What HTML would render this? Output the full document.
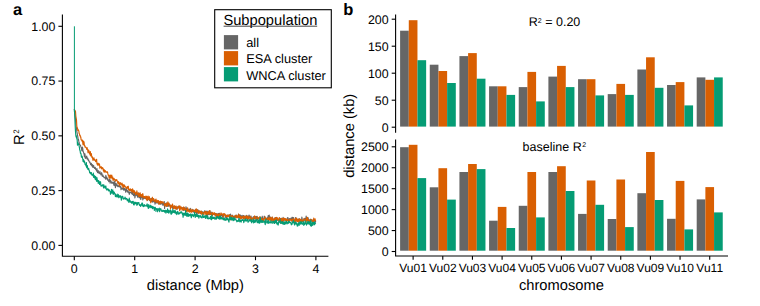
<!DOCTYPE html>
<html><head><meta charset="utf-8"><style>
html,body{margin:0;padding:0;background:#fff;width:760px;height:306px;overflow:hidden}
svg{display:block}
text{font-family:"Liberation Sans", sans-serif;fill:#000;text-rendering:geometricPrecision}
</style></head><body>
<svg width="760" height="306" viewBox="0 0 760 306">

<text x="13" y="14.6" font-size="16.5" font-weight="bold">a</text>
<path d="M74.4,109.06L74.50,110.1L74.83,113.5L75.16,116.7L75.49,119.1L75.82,124.2L76.15,127.3L76.48,128.3L76.81,131.3L77.14,133.0L77.47,135.0L77.80,136.7L78.13,139.2L78.46,139.3L78.79,141.4L79.12,142.3L79.45,144.6L79.78,144.8L80.11,145.1L80.44,145.1L80.77,146.4L81.10,147.4L81.43,147.7L81.76,150.4L82.09,150.8L82.42,147.0L82.75,148.7L83.08,151.5L83.41,151.8L83.74,153.2L84.07,153.9L84.40,156.8L84.73,153.5L85.06,154.9L85.39,158.4L85.72,157.3L86.05,157.9L86.38,157.0L86.71,156.1L87.04,158.8L87.37,159.2L87.70,158.1L88.03,159.2L88.36,160.5L88.69,159.9L89.02,161.3L89.35,162.0L89.68,162.4L90.01,162.1L90.34,163.9L90.67,164.7L91.00,164.4L91.33,163.4L91.66,165.7L91.99,164.6L92.32,166.6L92.65,164.7L92.98,167.4L93.31,166.7L93.64,165.6L93.97,167.0L94.30,167.8L94.63,168.5L94.96,167.3L95.29,167.5L95.62,169.4L95.95,168.9L96.28,170.1L96.61,171.1L96.94,168.5L97.27,171.1L97.60,172.6L97.93,171.1L98.26,170.7L98.59,172.9L98.92,172.6L99.25,173.7L99.58,172.5L99.91,171.4L100.24,173.4L100.57,173.3L100.90,175.0L101.23,174.6L101.56,172.7L101.89,173.5L102.22,176.2L102.55,176.3L102.88,175.0L103.21,176.0L103.54,176.8L103.87,177.1L104.20,177.8L104.53,177.3L104.86,177.2L105.19,177.2L105.52,179.1L105.85,175.3L106.18,178.1L106.51,178.6L106.84,177.1L107.17,179.4L107.50,178.5L107.83,180.5L108.16,179.6L108.49,180.8L108.82,181.7L109.15,180.9L109.48,179.6L109.81,179.1L110.14,183.2L110.47,181.2L110.80,180.7L111.13,182.0L111.46,181.8L111.79,183.3L112.12,182.5L112.45,182.7L112.78,182.0L113.11,183.7L113.44,182.1L113.77,184.3L114.10,185.5L114.43,182.1L114.76,181.2L115.09,185.1L115.42,187.6L115.75,183.5L116.08,183.4L116.41,185.8L116.74,184.3L117.07,184.9L117.40,185.3L117.73,186.6L118.06,185.6L118.39,186.6L118.72,186.3L119.05,185.7L119.38,186.5L119.71,185.9L120.04,187.3L120.37,186.1L120.70,186.3L121.03,189.6L121.36,187.9L121.69,188.1L122.02,189.0L122.35,188.0L122.68,188.4L123.01,189.4L123.34,189.4L123.67,187.8L124.00,190.4L124.33,188.9L124.66,188.5L124.99,188.8L125.32,189.6L125.65,192.2L125.98,189.0L126.31,190.8L126.64,188.2L126.97,190.9L127.30,192.2L127.63,191.0L127.96,190.7L128.29,191.8L128.62,192.6L128.95,192.7L129.28,194.4L129.61,192.4L129.94,191.6L130.27,192.4L130.60,192.6L130.93,192.9L131.26,192.9L131.59,193.3L131.92,191.3L132.25,194.4L132.58,192.9L132.91,192.3L133.24,194.6L133.57,195.6L133.90,194.7L134.23,194.5L134.56,193.3L134.89,198.0L135.22,195.8L135.55,193.5L135.88,194.1L136.21,195.2L136.54,193.4L136.87,195.6L137.20,195.0L137.53,197.2L137.86,197.0L138.19,192.7L138.52,196.1L138.85,194.3L139.18,197.7L139.51,196.7L139.84,197.3L140.17,195.5L140.50,199.1L140.83,199.4L141.16,195.9L141.49,197.7L141.82,196.6L142.15,197.5L142.48,196.1L142.81,200.0L143.14,196.7L143.47,197.6L143.80,198.7L144.13,197.5L144.46,198.1L144.79,197.8L145.12,198.4L145.45,197.3L145.78,198.3L146.11,198.7L146.44,198.7L146.77,199.3L147.10,199.0L147.43,200.3L147.76,199.2L148.09,199.5L148.42,199.0L148.75,199.2L149.08,198.5L149.41,200.7L149.74,198.8L150.07,199.4L150.40,200.9L150.73,201.0L151.06,200.2L151.39,198.3L151.72,201.4L152.05,201.3L152.38,199.4L152.71,202.1L153.04,200.4L153.37,200.0L153.70,201.6L154.03,201.4L154.36,201.9L154.69,199.9L155.02,204.1L155.35,201.3L155.68,200.3L156.01,203.0L156.34,201.9L156.67,202.8L157.00,202.1L157.33,202.5L157.66,203.0L157.99,201.9L158.32,203.7L158.65,202.4L158.98,202.0L159.31,203.3L159.64,203.8L159.97,203.1L160.30,202.4L160.63,204.3L160.96,201.5L161.29,202.5L161.62,203.9L161.95,202.3L162.28,204.0L162.61,204.0L162.94,205.3L163.27,203.2L163.60,203.6L163.93,204.9L164.26,201.6L164.59,208.4L164.92,203.9L165.25,203.9L165.58,205.9L165.91,204.9L166.24,202.9L166.57,205.9L166.90,206.3L167.23,204.8L167.56,205.1L167.89,206.1L168.22,204.5L168.55,206.2L168.88,206.0L169.21,205.0L169.54,204.2L169.87,205.7L170.20,205.0L170.53,207.3L170.86,206.4L171.19,207.2L171.52,206.5L171.85,206.8L172.18,205.6L172.51,207.4L172.84,208.8L173.17,206.4L173.50,206.1L173.83,206.7L174.16,206.4L174.49,206.2L174.82,207.3L175.15,206.9L175.48,209.0L175.81,207.4L176.14,207.8L176.47,208.7L176.80,207.2L177.13,209.4L177.46,207.0L177.79,206.8L178.12,207.4L178.45,207.8L178.78,206.3L179.11,208.0L179.44,206.2L179.77,209.9L180.10,208.2L180.43,207.6L180.76,207.3L181.09,208.0L181.42,208.3L181.75,207.4L182.08,207.6L182.41,208.5L182.74,208.2L183.07,210.0L183.40,210.3L183.73,209.1L184.06,209.7L184.39,207.6L184.72,210.0L185.05,209.3L185.38,209.9L185.71,211.3L186.04,206.7L186.37,209.9L186.70,208.3L187.03,210.4L187.36,208.2L187.69,209.2L188.02,210.1L188.35,210.7L188.68,210.1L189.01,209.1L189.34,209.4L189.67,211.2L190.00,210.2L190.33,208.3L190.66,211.4L190.99,210.9L191.32,211.5L191.65,210.1L191.98,211.6L192.31,209.4L192.64,211.4L192.97,210.2L193.30,211.6L193.63,212.1L193.96,210.0L194.29,210.9L194.62,211.1L194.95,212.5L195.28,212.0L195.61,209.7L195.94,211.8L196.27,212.2L196.60,213.9L196.93,209.4L197.26,210.8L197.59,213.1L197.92,210.0L198.25,210.2L198.58,212.3L198.91,213.0L199.24,211.0L199.57,212.5L199.90,212.0L200.23,213.8L200.56,212.0L200.89,213.2L201.22,211.0L201.55,211.9L201.88,212.1L202.21,213.6L202.54,213.0L202.87,211.5L203.20,213.2L203.53,213.4L203.86,212.4L204.19,212.2L204.52,212.4L204.85,210.6L205.18,212.9L205.51,213.0L205.84,211.8L206.17,213.7L206.50,211.2L206.83,212.3L207.16,212.4L207.49,215.4L207.82,211.2L208.15,213.8L208.48,214.3L208.81,213.7L209.14,214.7L209.47,212.1L209.80,210.6L210.13,214.3L210.46,212.0L210.79,213.1L211.12,212.1L211.45,214.8L211.78,214.7L212.11,212.8L212.44,214.8L212.77,213.9L213.10,213.6L213.43,213.9L213.76,213.6L214.09,214.7L214.42,214.3L214.75,213.6L215.08,215.3L215.41,213.4L215.74,214.5L216.07,214.7L216.40,216.0L216.73,213.7L217.06,216.4L217.39,214.6L217.72,214.2L218.05,213.6L218.38,215.2L218.71,214.6L219.04,213.2L219.37,213.2L219.70,214.0L220.03,213.9L220.36,216.0L220.69,216.4L221.02,215.8L221.35,215.2L221.68,214.3L222.01,215.0L222.34,216.0L222.67,217.5L223.00,216.1L223.33,214.7L223.66,215.1L223.99,214.5L224.32,214.2L224.65,215.0L224.98,215.5L225.31,217.5L225.64,215.4L225.97,217.0L226.30,217.5L226.63,215.5L226.96,217.4L227.29,216.3L227.62,215.0L227.95,215.9L228.28,215.6L228.61,215.3L228.94,215.4L229.27,215.9L229.60,216.2L229.93,214.7L230.26,215.8L230.59,214.0L230.92,216.2L231.25,216.6L231.58,216.1L231.91,216.3L232.24,216.7L232.57,215.2L232.90,215.8L233.23,216.7L233.56,217.3L233.89,216.6L234.22,219.3L234.55,216.1L234.88,217.5L235.21,217.8L235.54,216.2L235.87,215.4L236.20,215.0L236.53,216.6L236.86,217.8L237.19,216.8L237.52,216.7L237.85,216.1L238.18,217.2L238.51,214.0L238.84,216.9L239.17,216.7L239.50,215.0L239.83,219.3L240.16,215.1L240.49,215.5L240.82,215.4L241.15,218.2L241.48,215.8L241.81,217.7L242.14,217.6L242.47,217.3L242.80,215.4L243.13,216.3L243.46,219.0L243.79,215.5L244.12,216.1L244.45,216.9L244.78,218.1L245.11,217.5L245.44,218.1L245.77,215.9L246.10,218.4L246.43,218.0L246.76,215.4L247.09,219.2L247.42,220.1L247.75,216.5L248.08,217.5L248.41,219.1L248.74,215.7L249.07,215.1L249.40,216.0L249.73,216.9L250.06,216.9L250.39,218.3L250.72,217.9L251.05,216.1L251.38,218.3L251.71,219.9L252.04,219.1L252.37,218.9L252.70,217.8L253.03,219.0L253.36,216.6L253.69,218.7L254.02,217.8L254.35,219.2L254.68,218.5L255.01,216.6L255.34,218.1L255.67,219.4L256.00,216.6L256.33,217.4L256.66,217.1L256.99,216.3L257.32,219.2L257.65,219.7L257.98,219.1L258.31,218.4L258.64,218.1L258.97,218.5L259.30,217.3L259.63,219.3L259.96,219.5L260.29,219.4L260.62,217.7L260.95,218.4L261.28,218.2L261.61,220.5L261.94,218.6L262.27,216.2L262.60,218.9L262.93,220.7L263.26,219.3L263.59,219.6L263.92,218.6L264.25,216.2L264.58,216.4L264.91,217.1L265.24,218.5L265.57,219.0L265.90,219.5L266.23,218.3L266.56,219.8L266.89,218.4L267.22,217.9L267.55,219.8L267.88,217.7L268.21,215.5L268.54,217.5L268.87,218.9L269.20,215.1L269.53,218.4L269.86,218.5L270.19,217.2L270.52,217.1L270.85,218.4L271.18,218.3L271.51,220.5L271.84,219.4L272.17,217.1L272.50,218.0L272.83,219.9L273.16,221.3L273.49,219.5L273.82,219.5L274.15,221.3L274.48,219.1L274.81,218.8L275.14,217.5L275.47,218.6L275.80,221.8L276.13,217.5L276.46,219.2L276.79,217.6L277.12,219.4L277.45,220.3L277.78,219.0L278.11,220.2L278.44,220.2L278.77,219.9L279.10,221.4L279.43,220.3L279.76,219.0L280.09,218.6L280.42,218.4L280.75,220.0L281.08,219.1L281.41,222.7L281.74,221.7L282.07,219.2L282.40,219.1L282.73,221.6L283.06,217.3L283.39,219.0L283.72,220.7L284.05,218.5L284.38,219.0L284.71,219.2L285.04,220.4L285.37,219.8L285.70,220.1L286.03,220.4L286.36,219.7L286.69,221.0L287.02,218.8L287.35,218.0L287.68,217.6L288.01,217.8L288.34,219.1L288.67,221.0L289.00,220.0L289.33,219.1L289.66,218.5L289.99,219.2L290.32,219.4L290.65,219.2L290.98,218.2L291.31,219.3L291.64,221.1L291.97,217.3L292.30,219.6L292.63,217.4L292.96,220.2L293.29,219.1L293.62,217.5L293.95,220.1L294.28,222.2L294.61,220.2L294.94,221.4L295.27,220.0L295.60,217.5L295.93,220.7L296.26,219.6L296.59,218.3L296.92,221.0L297.25,220.5L297.58,219.5L297.91,221.2L298.24,219.1L298.57,220.9L298.90,219.0L299.23,220.8L299.56,218.9L299.89,222.0L300.22,220.5L300.55,221.9L300.88,219.3L301.21,219.7L301.54,221.3L301.87,217.0L302.20,219.0L302.53,221.5L302.86,220.9L303.19,221.5L303.52,220.0L303.85,221.0L304.18,219.5L304.51,218.7L304.84,218.3L305.17,219.7L305.50,219.7L305.83,219.6L306.16,216.1L306.49,218.0L306.82,219.8L307.15,220.8L307.48,219.7L307.81,219.4L308.14,217.7L308.47,222.9L308.80,219.2L309.13,222.5L309.46,222.4L309.79,220.8L310.12,219.8L310.45,220.7L310.78,219.1L311.11,220.9L311.44,220.5L311.77,221.2L312.10,221.7L312.43,222.7L312.76,220.1L313.09,221.8L313.42,219.6L313.75,219.5L314.08,219.9L314.41,219.4L314.74,221.8L315.07,221.7L315.40,222.2L315.73,220.6" fill="none" stroke="#666666" stroke-width="1.15" stroke-linejoin="round"/>
<path d="M74.4,109.03L74.50,110.0L74.83,110.2L75.16,111.1L75.49,111.3L75.82,116.1L76.15,118.0L76.48,119.9L76.81,126.0L77.14,127.7L77.47,127.8L77.80,130.4L78.13,129.5L78.46,130.4L78.79,130.8L79.12,133.4L79.45,133.8L79.78,135.6L80.11,135.2L80.44,137.1L80.77,136.8L81.10,139.7L81.43,139.7L81.76,140.4L82.09,141.2L82.42,140.1L82.75,142.8L83.08,144.9L83.41,141.1L83.74,141.5L84.07,142.3L84.40,145.7L84.73,145.4L85.06,147.1L85.39,147.2L85.72,147.1L86.05,147.7L86.38,147.7L86.71,149.4L87.04,147.5L87.37,148.9L87.70,150.2L88.03,152.6L88.36,150.0L88.69,150.1L89.02,151.2L89.35,153.5L89.68,152.6L90.01,154.9L90.34,151.6L90.67,155.7L91.00,156.0L91.33,153.5L91.66,155.9L91.99,157.6L92.32,156.7L92.65,158.3L92.98,160.4L93.31,158.3L93.64,158.1L93.97,157.9L94.30,160.1L94.63,159.5L94.96,159.9L95.29,160.4L95.62,161.7L95.95,160.1L96.28,160.0L96.61,159.3L96.94,164.0L97.27,163.1L97.60,165.2L97.93,163.8L98.26,163.3L98.59,165.1L98.92,164.8L99.25,163.8L99.58,164.6L99.91,168.2L100.24,166.8L100.57,167.3L100.90,166.8L101.23,166.7L101.56,168.9L101.89,168.1L102.22,167.6L102.55,168.7L102.88,168.1L103.21,169.8L103.54,171.2L103.87,169.2L104.20,172.3L104.53,170.1L104.86,171.4L105.19,170.5L105.52,171.6L105.85,172.2L106.18,171.9L106.51,171.9L106.84,172.3L107.17,172.4L107.50,171.8L107.83,173.7L108.16,174.8L108.49,175.7L108.82,175.7L109.15,178.1L109.48,175.8L109.81,175.2L110.14,178.3L110.47,175.0L110.80,177.7L111.13,175.7L111.46,177.6L111.79,175.0L112.12,178.8L112.45,177.8L112.78,177.0L113.11,180.5L113.44,179.7L113.77,179.0L114.10,178.4L114.43,179.5L114.76,179.6L115.09,180.9L115.42,181.2L115.75,179.7L116.08,180.1L116.41,180.4L116.74,179.6L117.07,180.8L117.40,181.6L117.73,182.8L118.06,183.8L118.39,181.5L118.72,183.3L119.05,182.4L119.38,185.6L119.71,183.3L120.04,184.2L120.37,182.7L120.70,183.1L121.03,184.5L121.36,184.0L121.69,185.1L122.02,183.0L122.35,185.9L122.68,184.3L123.01,187.6L123.34,185.4L123.67,187.3L124.00,184.5L124.33,186.9L124.66,185.5L124.99,186.2L125.32,187.0L125.65,186.8L125.98,187.7L126.31,188.5L126.64,188.6L126.97,187.9L127.30,186.6L127.63,187.4L127.96,188.3L128.29,186.2L128.62,189.9L128.95,188.9L129.28,189.0L129.61,190.7L129.94,190.5L130.27,190.2L130.60,188.9L130.93,190.6L131.26,190.9L131.59,189.6L131.92,192.0L132.25,191.6L132.58,188.8L132.91,191.5L133.24,190.0L133.57,193.0L133.90,192.8L134.23,190.7L134.56,191.1L134.89,192.5L135.22,192.2L135.55,194.5L135.88,193.7L136.21,192.7L136.54,193.9L136.87,190.9L137.20,193.9L137.53,194.7L137.86,193.6L138.19,193.1L138.52,194.8L138.85,196.6L139.18,194.7L139.51,193.3L139.84,196.5L140.17,192.7L140.50,195.7L140.83,194.5L141.16,196.5L141.49,194.5L141.82,197.2L142.15,196.2L142.48,193.9L142.81,193.7L143.14,195.9L143.47,197.9L143.80,196.7L144.13,196.8L144.46,196.5L144.79,197.8L145.12,197.5L145.45,197.6L145.78,196.2L146.11,198.9L146.44,199.3L146.77,196.2L147.10,200.7L147.43,198.9L147.76,197.6L148.09,196.0L148.42,199.2L148.75,199.2L149.08,198.0L149.41,196.7L149.74,200.3L150.07,198.4L150.40,198.7L150.73,202.8L151.06,202.0L151.39,200.7L151.72,199.2L152.05,200.6L152.38,197.2L152.71,200.2L153.04,199.3L153.37,198.8L153.70,198.6L154.03,201.2L154.36,200.8L154.69,201.0L155.02,201.9L155.35,200.0L155.68,199.7L156.01,199.1L156.34,201.0L156.67,202.4L157.00,201.4L157.33,202.5L157.66,200.4L157.99,201.4L158.32,201.1L158.65,200.7L158.98,204.5L159.31,203.4L159.64,201.6L159.97,201.7L160.30,202.6L160.63,201.1L160.96,203.5L161.29,201.5L161.62,202.7L161.95,202.0L162.28,202.8L162.61,201.9L162.94,201.7L163.27,202.5L163.60,202.9L163.93,203.5L164.26,204.0L164.59,205.9L164.92,205.1L165.25,204.0L165.58,205.2L165.91,203.6L166.24,206.3L166.57,205.3L166.90,203.1L167.23,205.7L167.56,205.9L167.89,201.8L168.22,204.2L168.55,204.6L168.88,203.0L169.21,204.1L169.54,204.4L169.87,206.2L170.20,206.0L170.53,208.9L170.86,205.4L171.19,207.3L171.52,206.1L171.85,206.4L172.18,204.8L172.51,204.0L172.84,205.5L173.17,207.4L173.50,208.5L173.83,207.4L174.16,207.3L174.49,205.8L174.82,208.7L175.15,208.6L175.48,206.4L175.81,207.1L176.14,206.0L176.47,209.1L176.80,207.9L177.13,207.4L177.46,208.0L177.79,208.2L178.12,207.2L178.45,206.3L178.78,206.3L179.11,205.9L179.44,208.6L179.77,210.8L180.10,206.1L180.43,208.4L180.76,208.8L181.09,207.2L181.42,208.7L181.75,207.2L182.08,210.1L182.41,208.0L182.74,208.9L183.07,209.7L183.40,208.4L183.73,206.9L184.06,208.4L184.39,210.1L184.72,209.1L185.05,209.6L185.38,208.1L185.71,209.6L186.04,210.4L186.37,209.6L186.70,211.9L187.03,209.5L187.36,208.5L187.69,207.9L188.02,211.3L188.35,209.9L188.68,211.3L189.01,210.7L189.34,212.1L189.67,211.8L190.00,209.9L190.33,210.7L190.66,211.8L190.99,209.0L191.32,212.3L191.65,212.1L191.98,211.9L192.31,210.5L192.64,211.2L192.97,209.6L193.30,211.0L193.63,210.3L193.96,211.2L194.29,210.6L194.62,211.6L194.95,212.7L195.28,209.8L195.61,212.5L195.94,209.1L196.27,208.9L196.60,211.4L196.93,211.6L197.26,212.2L197.59,209.8L197.92,211.7L198.25,212.0L198.58,213.4L198.91,211.9L199.24,212.7L199.57,210.9L199.90,211.9L200.23,211.7L200.56,213.1L200.89,211.1L201.22,211.4L201.55,213.1L201.88,214.6L202.21,213.0L202.54,213.0L202.87,212.2L203.20,214.0L203.53,213.4L203.86,214.9L204.19,213.3L204.52,211.8L204.85,212.3L205.18,211.8L205.51,211.6L205.84,214.6L206.17,214.1L206.50,211.7L206.83,215.4L207.16,213.6L207.49,212.2L207.82,213.9L208.15,213.4L208.48,212.6L208.81,211.2L209.14,213.7L209.47,214.0L209.80,210.6L210.13,214.4L210.46,214.6L210.79,213.3L211.12,214.0L211.45,213.6L211.78,213.0L212.11,213.6L212.44,215.7L212.77,212.4L213.10,214.5L213.43,214.5L213.76,213.4L214.09,213.8L214.42,212.7L214.75,213.4L215.08,214.5L215.41,214.9L215.74,213.5L216.07,218.3L216.40,213.9L216.73,214.8L217.06,214.4L217.39,214.3L217.72,216.4L218.05,214.3L218.38,216.5L218.71,216.3L219.04,213.7L219.37,216.3L219.70,214.3L220.03,218.4L220.36,214.7L220.69,214.0L221.02,212.9L221.35,213.7L221.68,214.6L222.01,214.1L222.34,213.9L222.67,214.6L223.00,215.2L223.33,217.2L223.66,213.5L223.99,214.9L224.32,214.5L224.65,213.8L224.98,214.2L225.31,214.6L225.64,216.6L225.97,215.6L226.30,215.2L226.63,216.6L226.96,216.2L227.29,215.7L227.62,216.4L227.95,215.0L228.28,216.8L228.61,216.6L228.94,215.6L229.27,214.7L229.60,218.0L229.93,216.3L230.26,219.9L230.59,215.5L230.92,217.4L231.25,215.8L231.58,216.7L231.91,217.4L232.24,215.5L232.57,216.4L232.90,216.7L233.23,216.7L233.56,217.3L233.89,217.9L234.22,217.7L234.55,217.0L234.88,216.3L235.21,215.4L235.54,215.9L235.87,216.2L236.20,217.7L236.53,216.4L236.86,215.4L237.19,217.7L237.52,216.0L237.85,216.1L238.18,216.8L238.51,217.6L238.84,214.2L239.17,215.8L239.50,217.4L239.83,216.7L240.16,216.2L240.49,216.6L240.82,218.9L241.15,216.7L241.48,218.2L241.81,218.3L242.14,216.8L242.47,217.9L242.80,216.9L243.13,216.7L243.46,216.1L243.79,218.6L244.12,217.1L244.45,216.9L244.78,216.2L245.11,219.8L245.44,218.5L245.77,217.5L246.10,216.9L246.43,215.9L246.76,218.1L247.09,218.1L247.42,216.1L247.75,219.2L248.08,218.8L248.41,216.7L248.74,217.2L249.07,217.4L249.40,218.2L249.73,217.8L250.06,216.0L250.39,219.8L250.72,218.4L251.05,219.6L251.38,219.6L251.71,217.9L252.04,218.6L252.37,219.1L252.70,219.1L253.03,218.0L253.36,217.5L253.69,218.3L254.02,217.3L254.35,217.6L254.68,215.9L255.01,218.5L255.34,217.1L255.67,217.7L256.00,218.4L256.33,218.8L256.66,220.7L256.99,218.7L257.32,216.8L257.65,218.7L257.98,217.8L258.31,219.0L258.64,217.8L258.97,217.8L259.30,218.0L259.63,217.9L259.96,216.5L260.29,217.9L260.62,218.7L260.95,220.2L261.28,218.4L261.61,218.3L261.94,219.5L262.27,219.5L262.60,220.7L262.93,219.5L263.26,218.8L263.59,220.5L263.92,220.7L264.25,218.4L264.58,219.1L264.91,216.9L265.24,218.5L265.57,217.9L265.90,218.8L266.23,218.5L266.56,218.8L266.89,218.9L267.22,219.7L267.55,219.4L267.88,218.4L268.21,217.6L268.54,220.6L268.87,220.9L269.20,218.6L269.53,219.9L269.86,217.4L270.19,217.4L270.52,218.9L270.85,221.0L271.18,218.0L271.51,218.3L271.84,221.2L272.17,217.1L272.50,220.1L272.83,219.9L273.16,219.1L273.49,219.6L273.82,222.6L274.15,218.1L274.48,219.1L274.81,219.2L275.14,218.6L275.47,217.9L275.80,221.4L276.13,219.8L276.46,217.4L276.79,218.7L277.12,220.0L277.45,220.0L277.78,217.8L278.11,219.5L278.44,219.9L278.77,220.1L279.10,220.1L279.43,217.5L279.76,221.9L280.09,219.9L280.42,221.9L280.75,223.1L281.08,219.5L281.41,218.2L281.74,220.8L282.07,219.5L282.40,219.2L282.73,218.5L283.06,221.8L283.39,219.3L283.72,218.1L284.05,219.3L284.38,218.4L284.71,220.0L285.04,219.3L285.37,218.6L285.70,220.6L286.03,219.1L286.36,220.8L286.69,221.4L287.02,219.5L287.35,219.2L287.68,220.2L288.01,221.0L288.34,220.0L288.67,220.1L289.00,220.0L289.33,220.4L289.66,220.8L289.99,219.2L290.32,219.4L290.65,220.1L290.98,219.2L291.31,220.2L291.64,220.7L291.97,220.0L292.30,219.4L292.63,219.2L292.96,222.2L293.29,221.2L293.62,218.8L293.95,219.1L294.28,222.4L294.61,222.0L294.94,220.3L295.27,221.5L295.60,218.4L295.93,220.2L296.26,221.1L296.59,218.0L296.92,219.3L297.25,221.1L297.58,221.6L297.91,219.5L298.24,220.6L298.57,222.2L298.90,219.8L299.23,218.7L299.56,220.2L299.89,219.8L300.22,221.8L300.55,220.5L300.88,219.3L301.21,223.2L301.54,219.7L301.87,220.9L302.20,221.1L302.53,221.3L302.86,220.5L303.19,221.0L303.52,220.3L303.85,218.6L304.18,220.1L304.51,220.1L304.84,220.2L305.17,220.5L305.50,219.6L305.83,222.0L306.16,222.3L306.49,217.8L306.82,220.4L307.15,219.6L307.48,217.3L307.81,220.9L308.14,219.7L308.47,220.0L308.80,219.7L309.13,221.7L309.46,221.9L309.79,220.8L310.12,221.3L310.45,220.3L310.78,220.6L311.11,219.6L311.44,220.5L311.77,219.6L312.10,220.9L312.43,221.5L312.76,220.9L313.09,221.9L313.42,223.7L313.75,218.0L314.08,220.5L314.41,219.8L314.74,220.0L315.07,218.9L315.40,220.6L315.73,220.2" fill="none" stroke="#D95F02" stroke-width="1.15" stroke-linejoin="round"/>
<path d="M74.4,26.3V112" fill="none" stroke="#059C74" stroke-width="1.0"/>
<path d="M74.4,109.37L74.50,110.4L74.83,117.7L75.16,125.5L75.49,131.4L75.82,135.4L76.15,137.1L76.48,135.9L76.81,138.9L77.14,139.1L77.47,145.2L77.80,142.6L78.13,143.0L78.46,144.3L78.79,145.1L79.12,145.9L79.45,147.9L79.78,150.2L80.11,150.6L80.44,153.2L80.77,153.0L81.10,154.4L81.43,157.1L81.76,156.7L82.09,156.2L82.42,157.4L82.75,159.0L83.08,161.5L83.41,159.6L83.74,160.3L84.07,162.5L84.40,161.0L84.73,162.3L85.06,164.4L85.39,164.7L85.72,164.7L86.05,166.1L86.38,162.5L86.71,167.7L87.04,165.9L87.37,165.6L87.70,168.5L88.03,169.5L88.36,168.7L88.69,168.4L89.02,170.3L89.35,170.7L89.68,172.9L90.01,172.6L90.34,172.4L90.67,174.0L91.00,172.9L91.33,172.5L91.66,174.7L91.99,175.2L92.32,174.6L92.65,174.4L92.98,176.0L93.31,173.1L93.64,177.4L93.97,177.5L94.30,175.3L94.63,177.8L94.96,176.9L95.29,179.4L95.62,176.4L95.95,178.1L96.28,180.4L96.61,181.3L96.94,177.6L97.27,180.0L97.60,181.3L97.93,180.5L98.26,183.5L98.59,180.5L98.92,182.6L99.25,181.3L99.58,184.5L99.91,183.1L100.24,183.0L100.57,181.7L100.90,186.0L101.23,185.2L101.56,185.5L101.89,186.2L102.22,185.6L102.55,184.7L102.88,184.7L103.21,185.0L103.54,187.9L103.87,184.8L104.20,186.1L104.53,186.6L104.86,187.6L105.19,188.2L105.52,186.3L105.85,186.0L106.18,188.3L106.51,190.0L106.84,189.7L107.17,189.2L107.50,188.8L107.83,189.8L108.16,189.4L108.49,190.9L108.82,189.2L109.15,190.5L109.48,190.4L109.81,191.4L110.14,191.3L110.47,194.3L110.80,193.2L111.13,193.4L111.46,189.4L111.79,191.6L112.12,191.5L112.45,193.1L112.78,189.9L113.11,194.2L113.44,194.3L113.77,191.7L114.10,192.2L114.43,192.6L114.76,193.8L115.09,194.7L115.42,196.6L115.75,194.1L116.08,195.4L116.41,194.9L116.74,197.0L117.07,195.9L117.40,196.9L117.73,194.1L118.06,195.3L118.39,194.7L118.72,197.7L119.05,196.8L119.38,195.9L119.71,195.8L120.04,197.1L120.37,195.9L120.70,195.8L121.03,197.6L121.36,200.1L121.69,197.0L122.02,196.8L122.35,196.2L122.68,196.2L123.01,198.6L123.34,199.1L123.67,198.3L124.00,198.8L124.33,198.7L124.66,198.8L124.99,197.0L125.32,198.4L125.65,199.2L125.98,198.3L126.31,198.8L126.64,198.5L126.97,199.3L127.30,200.8L127.63,199.4L127.96,199.9L128.29,201.2L128.62,201.1L128.95,202.5L129.28,198.1L129.61,201.7L129.94,200.3L130.27,201.1L130.60,202.1L130.93,202.5L131.26,202.6L131.59,201.7L131.92,203.5L132.25,201.4L132.58,201.7L132.91,202.9L133.24,201.4L133.57,204.8L133.90,203.5L134.23,205.0L134.56,202.5L134.89,202.2L135.22,203.0L135.55,203.8L135.88,202.3L136.21,203.6L136.54,203.2L136.87,205.3L137.20,202.6L137.53,204.8L137.86,202.9L138.19,202.6L138.52,203.0L138.85,202.5L139.18,204.3L139.51,205.4L139.84,204.5L140.17,205.1L140.50,206.4L140.83,204.9L141.16,204.9L141.49,204.5L141.82,203.0L142.15,205.9L142.48,203.0L142.81,206.0L143.14,205.3L143.47,206.7L143.80,205.4L144.13,204.6L144.46,206.1L144.79,205.1L145.12,205.6L145.45,206.0L145.78,205.9L146.11,205.9L146.44,205.2L146.77,206.1L147.10,203.8L147.43,206.3L147.76,205.1L148.09,208.0L148.42,208.3L148.75,204.5L149.08,207.1L149.41,206.9L149.74,205.9L150.07,207.8L150.40,206.7L150.73,205.2L151.06,207.1L151.39,207.4L151.72,207.7L152.05,206.2L152.38,208.5L152.71,208.7L153.04,206.6L153.37,207.2L153.70,208.0L154.03,207.5L154.36,210.4L154.69,208.6L155.02,207.2L155.35,207.6L155.68,208.5L156.01,211.4L156.34,208.5L156.67,209.0L157.00,209.5L157.33,208.9L157.66,211.8L157.99,208.5L158.32,210.1L158.65,209.4L158.98,210.1L159.31,208.0L159.64,211.6L159.97,209.4L160.30,209.7L160.63,208.6L160.96,208.9L161.29,210.5L161.62,211.1L161.95,210.9L162.28,211.5L162.61,211.0L162.94,210.2L163.27,211.3L163.60,211.0L163.93,210.3L164.26,211.3L164.59,212.1L164.92,210.9L165.25,210.2L165.58,211.6L165.91,213.1L166.24,210.6L166.57,210.8L166.90,210.8L167.23,212.5L167.56,208.9L167.89,211.6L168.22,212.7L168.55,210.3L168.88,213.1L169.21,212.1L169.54,210.8L169.87,211.8L170.20,209.8L170.53,211.0L170.86,213.9L171.19,210.7L171.52,214.1L171.85,211.8L172.18,213.2L172.51,212.1L172.84,209.4L173.17,211.5L173.50,212.4L173.83,210.9L174.16,210.7L174.49,212.8L174.82,211.7L175.15,210.5L175.48,211.7L175.81,213.6L176.14,212.1L176.47,213.8L176.80,214.6L177.13,212.9L177.46,211.5L177.79,211.4L178.12,213.0L178.45,214.1L178.78,213.4L179.11,213.8L179.44,212.7L179.77,213.6L180.10,212.8L180.43,213.0L180.76,211.9L181.09,211.6L181.42,212.9L181.75,212.2L182.08,212.5L182.41,214.5L182.74,213.6L183.07,217.3L183.40,214.9L183.73,213.1L184.06,214.9L184.39,214.4L184.72,213.2L185.05,215.4L185.38,213.2L185.71,210.5L186.04,215.2L186.37,213.5L186.70,216.1L187.03,213.6L187.36,213.0L187.69,216.3L188.02,213.2L188.35,214.8L188.68,216.4L189.01,214.8L189.34,214.6L189.67,214.9L190.00,215.8L190.33,213.9L190.66,215.6L190.99,215.6L191.32,217.8L191.65,214.6L191.98,214.0L192.31,216.0L192.64,214.7L192.97,215.6L193.30,215.4L193.63,216.7L193.96,214.5L194.29,215.3L194.62,212.4L194.95,214.4L195.28,217.4L195.61,214.7L195.94,214.8L196.27,214.2L196.60,216.4L196.93,215.9L197.26,214.3L197.59,216.6L197.92,216.2L198.25,216.8L198.58,215.2L198.91,218.1L199.24,216.5L199.57,215.9L199.90,215.5L200.23,215.8L200.56,217.2L200.89,215.9L201.22,217.5L201.55,217.0L201.88,218.0L202.21,217.4L202.54,216.3L202.87,214.2L203.20,216.8L203.53,217.5L203.86,216.8L204.19,217.3L204.52,216.1L204.85,216.2L205.18,215.6L205.51,218.4L205.84,217.0L206.17,216.2L206.50,215.3L206.83,216.7L207.16,218.7L207.49,217.5L207.82,216.1L208.15,218.8L208.48,218.8L208.81,218.3L209.14,218.1L209.47,218.6L209.80,217.9L210.13,218.2L210.46,216.4L210.79,219.1L211.12,217.7L211.45,219.8L211.78,215.0L212.11,218.3L212.44,218.7L212.77,217.1L213.10,218.1L213.43,218.5L213.76,218.3L214.09,217.0L214.42,217.5L214.75,219.0L215.08,219.3L215.41,217.9L215.74,217.9L216.07,218.1L216.40,219.2L216.73,216.7L217.06,216.4L217.39,218.2L217.72,216.7L218.05,217.4L218.38,218.2L218.71,218.7L219.04,216.9L219.37,219.2L219.70,216.1L220.03,218.9L220.36,216.4L220.69,216.8L221.02,219.1L221.35,217.9L221.68,217.5L222.01,217.9L222.34,219.0L222.67,218.5L223.00,218.5L223.33,219.8L223.66,217.8L223.99,218.1L224.32,218.0L224.65,220.1L224.98,219.9L225.31,220.3L225.64,218.7L225.97,218.6L226.30,219.9L226.63,218.4L226.96,219.9L227.29,219.8L227.62,218.1L227.95,218.9L228.28,218.9L228.61,221.1L228.94,222.2L229.27,219.0L229.60,219.2L229.93,216.4L230.26,219.4L230.59,219.2L230.92,218.0L231.25,220.2L231.58,217.4L231.91,219.1L232.24,219.5L232.57,217.9L232.90,220.4L233.23,220.7L233.56,217.8L233.89,217.8L234.22,220.2L234.55,219.5L234.88,218.1L235.21,219.2L235.54,219.5L235.87,219.5L236.20,220.7L236.53,220.2L236.86,221.8L237.19,221.4L237.52,220.6L237.85,221.1L238.18,221.4L238.51,220.7L238.84,218.4L239.17,220.9L239.50,220.0L239.83,221.9L240.16,220.1L240.49,220.6L240.82,220.4L241.15,222.1L241.48,220.3L241.81,219.8L242.14,220.5L242.47,219.6L242.80,220.4L243.13,220.2L243.46,220.5L243.79,222.6L244.12,219.8L244.45,220.3L244.78,220.1L245.11,221.1L245.44,218.9L245.77,219.6L246.10,220.4L246.43,221.1L246.76,220.4L247.09,219.9L247.42,219.5L247.75,221.1L248.08,222.3L248.41,221.0L248.74,220.8L249.07,221.1L249.40,219.5L249.73,220.3L250.06,220.4L250.39,221.1L250.72,220.7L251.05,219.3L251.38,222.1L251.71,222.8L252.04,220.5L252.37,221.3L252.70,221.2L253.03,221.8L253.36,219.1L253.69,222.9L254.02,220.4L254.35,222.5L254.68,221.1L255.01,220.5L255.34,220.9L255.67,222.1L256.00,220.0L256.33,220.6L256.66,220.5L256.99,219.1L257.32,222.7L257.65,221.9L257.98,221.2L258.31,222.6L258.64,220.1L258.97,221.2L259.30,223.3L259.63,222.5L259.96,218.6L260.29,217.3L260.62,220.1L260.95,222.6L261.28,220.8L261.61,221.2L261.94,222.2L262.27,220.4L262.60,221.7L262.93,222.4L263.26,222.1L263.59,222.0L263.92,220.8L264.25,222.2L264.58,221.1L264.91,223.2L265.24,224.7L265.57,220.8L265.90,219.1L266.23,221.2L266.56,222.1L266.89,223.0L267.22,223.0L267.55,220.8L267.88,220.8L268.21,223.3L268.54,220.5L268.87,223.1L269.20,221.6L269.53,222.8L269.86,222.7L270.19,222.8L270.52,222.9L270.85,220.7L271.18,222.3L271.51,222.0L271.84,222.4L272.17,223.5L272.50,221.7L272.83,221.2L273.16,221.2L273.49,221.7L273.82,223.0L274.15,221.1L274.48,223.5L274.81,222.5L275.14,221.9L275.47,220.6L275.80,222.5L276.13,223.0L276.46,220.1L276.79,223.7L277.12,224.2L277.45,222.7L277.78,222.9L278.11,225.2L278.44,223.8L278.77,221.3L279.10,222.3L279.43,222.2L279.76,222.2L280.09,219.6L280.42,223.3L280.75,221.7L281.08,222.6L281.41,222.3L281.74,223.5L282.07,222.1L282.40,221.6L282.73,223.2L283.06,224.2L283.39,222.2L283.72,224.2L284.05,222.9L284.38,222.0L284.71,224.4L285.04,221.7L285.37,223.9L285.70,222.1L286.03,223.2L286.36,221.2L286.69,221.7L287.02,224.0L287.35,223.0L287.68,222.8L288.01,222.2L288.34,223.3L288.67,221.1L289.00,221.5L289.33,222.6L289.66,221.8L289.99,222.0L290.32,222.8L290.65,222.7L290.98,222.6L291.31,224.9L291.64,224.1L291.97,224.4L292.30,222.9L292.63,222.4L292.96,221.2L293.29,222.6L293.62,220.5L293.95,222.3L294.28,224.0L294.61,225.0L294.94,224.2L295.27,222.0L295.60,223.7L295.93,222.2L296.26,224.1L296.59,223.0L296.92,224.2L297.25,226.2L297.58,224.3L297.91,226.0L298.24,223.4L298.57,222.8L298.90,224.8L299.23,225.3L299.56,222.6L299.89,223.4L300.22,221.6L300.55,223.0L300.88,224.4L301.21,223.2L301.54,222.6L301.87,221.6L302.20,223.8L302.53,224.3L302.86,224.1L303.19,223.7L303.52,221.9L303.85,225.5L304.18,223.4L304.51,223.3L304.84,224.3L305.17,220.9L305.50,223.4L305.83,223.3L306.16,223.9L306.49,225.1L306.82,224.1L307.15,221.3L307.48,223.1L307.81,223.8L308.14,223.7L308.47,222.0L308.80,221.6L309.13,224.3L309.46,224.0L309.79,223.6L310.12,221.6L310.45,225.8L310.78,220.2L311.11,223.2L311.44,226.2L311.77,223.5L312.10,224.0L312.43,222.3L312.76,225.4L313.09,222.2L313.42,224.1L313.75,223.9L314.08,222.5L314.41,224.8L314.74,222.1L315.07,223.0L315.40,223.8L315.73,223.3" fill="none" stroke="#059C74" stroke-width="1.15" stroke-linejoin="round"/>
<path d="M62.4,14.5V256.3H328.4" fill="none" stroke="#000" stroke-width="1.1"/>
<path d="M58.4,26.30H62.4" stroke="#000" stroke-width="1.1"/>
<text x="55.4" y="30.60" font-size="12.4" text-anchor="end">1.00</text>
<path d="M58.4,81.08H62.4" stroke="#000" stroke-width="1.1"/>
<text x="55.4" y="85.38" font-size="12.4" text-anchor="end">0.75</text>
<path d="M58.4,135.85H62.4" stroke="#000" stroke-width="1.1"/>
<text x="55.4" y="140.15" font-size="12.4" text-anchor="end">0.50</text>
<path d="M58.4,190.62H62.4" stroke="#000" stroke-width="1.1"/>
<text x="55.4" y="194.93" font-size="12.4" text-anchor="end">0.25</text>
<path d="M58.4,245.40H62.4" stroke="#000" stroke-width="1.1"/>
<text x="55.4" y="249.70" font-size="12.4" text-anchor="end">0.00</text>
<path d="M74.30,256.3V260.2" stroke="#000" stroke-width="1.1"/>
<text x="74.30" y="272.6" font-size="12.4" text-anchor="middle">0</text>
<path d="M134.70,256.3V260.2" stroke="#000" stroke-width="1.1"/>
<text x="134.70" y="272.6" font-size="12.4" text-anchor="middle">1</text>
<path d="M195.10,256.3V260.2" stroke="#000" stroke-width="1.1"/>
<text x="195.10" y="272.6" font-size="12.4" text-anchor="middle">2</text>
<path d="M255.50,256.3V260.2" stroke="#000" stroke-width="1.1"/>
<text x="255.50" y="272.6" font-size="12.4" text-anchor="middle">3</text>
<path d="M315.90,256.3V260.2" stroke="#000" stroke-width="1.1"/>
<text x="315.90" y="272.6" font-size="12.4" text-anchor="middle">4</text>
<text x="195.3" y="289.5" font-size="14.7" text-anchor="middle">distance (Mbp)</text>
<text transform="translate(23.8,144.9) rotate(-90)" font-size="14.7">R<tspan font-size="8" dx="0.6" dy="-4.4">2</tspan></text>
<rect x="214.7" y="9.7" width="116.6" height="78.1" fill="#fff" stroke="#000" stroke-width="1.1"/>
<text x="223.4" y="24.6" font-size="14.7">Subpopulation</text>
<path d="M223.6,26.2H317.2" stroke="#333" stroke-width="0.9"/>
<rect x="223.9" y="35.10" width="14.2" height="14.3" fill="#666666"/>
<text x="246.2" y="47.10" font-size="12.8">all</text>
<rect x="223.9" y="51.10" width="14.2" height="14.3" fill="#D95F02"/>
<text x="246.2" y="63.30" font-size="12.8">ESA cluster</text>
<rect x="223.9" y="67.10" width="14.2" height="14.3" fill="#059C74"/>
<text x="246.2" y="79.50" font-size="12.8">WNCA cluster</text>
<text x="343.3" y="14.5" font-size="16.5" font-weight="bold">b</text>
<rect x="400.10" y="30.70" width="8.68" height="95.90" fill="#666666"/>
<rect x="400.10" y="147.20" width="8.68" height="103.50" fill="#666666"/>
<rect x="408.78" y="20.20" width="8.68" height="106.40" fill="#D95F02"/>
<rect x="408.78" y="144.80" width="8.68" height="105.90" fill="#D95F02"/>
<rect x="417.46" y="60.20" width="8.68" height="66.40" fill="#059C74"/>
<rect x="417.46" y="178.10" width="8.68" height="72.60" fill="#059C74"/>
<rect x="429.76" y="64.70" width="8.68" height="61.90" fill="#666666"/>
<rect x="429.76" y="187.30" width="8.68" height="63.40" fill="#666666"/>
<rect x="438.44" y="71.00" width="8.68" height="55.60" fill="#D95F02"/>
<rect x="438.44" y="168.20" width="8.68" height="82.50" fill="#D95F02"/>
<rect x="447.12" y="83.00" width="8.68" height="43.60" fill="#059C74"/>
<rect x="447.12" y="199.60" width="8.68" height="51.10" fill="#059C74"/>
<rect x="459.42" y="56.10" width="8.68" height="70.50" fill="#666666"/>
<rect x="459.42" y="172.00" width="8.68" height="78.70" fill="#666666"/>
<rect x="468.10" y="53.10" width="8.68" height="73.50" fill="#D95F02"/>
<rect x="468.10" y="164.00" width="8.68" height="86.70" fill="#D95F02"/>
<rect x="476.78" y="78.70" width="8.68" height="47.90" fill="#059C74"/>
<rect x="476.78" y="169.10" width="8.68" height="81.60" fill="#059C74"/>
<rect x="489.08" y="86.30" width="8.68" height="40.30" fill="#666666"/>
<rect x="489.08" y="220.70" width="8.68" height="30.00" fill="#666666"/>
<rect x="497.76" y="86.30" width="8.68" height="40.30" fill="#D95F02"/>
<rect x="497.76" y="206.90" width="8.68" height="43.80" fill="#D95F02"/>
<rect x="506.44" y="94.90" width="8.68" height="31.70" fill="#059C74"/>
<rect x="506.44" y="228.00" width="8.68" height="22.70" fill="#059C74"/>
<rect x="518.74" y="87.10" width="8.68" height="39.50" fill="#666666"/>
<rect x="518.74" y="205.80" width="8.68" height="44.90" fill="#666666"/>
<rect x="527.42" y="71.90" width="8.68" height="54.70" fill="#D95F02"/>
<rect x="527.42" y="172.00" width="8.68" height="78.70" fill="#D95F02"/>
<rect x="536.10" y="101.40" width="8.68" height="25.20" fill="#059C74"/>
<rect x="536.10" y="217.40" width="8.68" height="33.30" fill="#059C74"/>
<rect x="548.40" y="76.60" width="8.68" height="50.00" fill="#666666"/>
<rect x="548.40" y="172.00" width="8.68" height="78.70" fill="#666666"/>
<rect x="557.08" y="65.90" width="8.68" height="60.70" fill="#D95F02"/>
<rect x="557.08" y="166.20" width="8.68" height="84.50" fill="#D95F02"/>
<rect x="565.76" y="87.10" width="8.68" height="39.50" fill="#059C74"/>
<rect x="565.76" y="191.00" width="8.68" height="59.70" fill="#059C74"/>
<rect x="578.06" y="79.20" width="8.68" height="47.40" fill="#666666"/>
<rect x="578.06" y="213.90" width="8.68" height="36.80" fill="#666666"/>
<rect x="586.74" y="79.20" width="8.68" height="47.40" fill="#D95F02"/>
<rect x="586.74" y="180.50" width="8.68" height="70.20" fill="#D95F02"/>
<rect x="595.42" y="95.40" width="8.68" height="31.20" fill="#059C74"/>
<rect x="595.42" y="204.80" width="8.68" height="45.90" fill="#059C74"/>
<rect x="607.72" y="94.10" width="8.68" height="32.50" fill="#666666"/>
<rect x="607.72" y="219.00" width="8.68" height="31.70" fill="#666666"/>
<rect x="616.40" y="83.90" width="8.68" height="42.70" fill="#D95F02"/>
<rect x="616.40" y="179.50" width="8.68" height="71.20" fill="#D95F02"/>
<rect x="625.08" y="94.90" width="8.68" height="31.70" fill="#059C74"/>
<rect x="625.08" y="227.10" width="8.68" height="23.60" fill="#059C74"/>
<rect x="637.38" y="69.50" width="8.68" height="57.10" fill="#666666"/>
<rect x="637.38" y="193.20" width="8.68" height="57.50" fill="#666666"/>
<rect x="646.06" y="57.30" width="8.68" height="69.30" fill="#D95F02"/>
<rect x="646.06" y="152.00" width="8.68" height="98.70" fill="#D95F02"/>
<rect x="654.74" y="87.80" width="8.68" height="38.80" fill="#059C74"/>
<rect x="654.74" y="200.00" width="8.68" height="50.70" fill="#059C74"/>
<rect x="667.04" y="85.00" width="8.68" height="41.60" fill="#666666"/>
<rect x="667.04" y="218.80" width="8.68" height="31.90" fill="#666666"/>
<rect x="675.72" y="82.10" width="8.68" height="44.50" fill="#D95F02"/>
<rect x="675.72" y="180.90" width="8.68" height="69.80" fill="#D95F02"/>
<rect x="684.40" y="105.40" width="8.68" height="21.20" fill="#059C74"/>
<rect x="684.40" y="229.40" width="8.68" height="21.30" fill="#059C74"/>
<rect x="696.70" y="77.40" width="8.68" height="49.20" fill="#666666"/>
<rect x="696.70" y="199.40" width="8.68" height="51.30" fill="#666666"/>
<rect x="705.38" y="79.80" width="8.68" height="46.80" fill="#D95F02"/>
<rect x="705.38" y="187.10" width="8.68" height="63.60" fill="#D95F02"/>
<rect x="714.06" y="77.40" width="8.68" height="49.20" fill="#059C74"/>
<rect x="714.06" y="212.40" width="8.68" height="38.30" fill="#059C74"/>
<path d="M395.6,14.5V132.8" fill="none" stroke="#000" stroke-width="1.1"/>
<path d="M395.6,139.6V256H728" fill="none" stroke="#000" stroke-width="1.1"/>
<path d="M391.70000000000005,127.20H395.6" stroke="#000" stroke-width="1.1"/>
<text x="388.60" y="131.50" font-size="12.4" text-anchor="end">0</text>
<path d="M391.70000000000005,100.20H395.6" stroke="#000" stroke-width="1.1"/>
<text x="388.60" y="104.50" font-size="12.4" text-anchor="end">50</text>
<path d="M391.70000000000005,73.20H395.6" stroke="#000" stroke-width="1.1"/>
<text x="388.60" y="77.50" font-size="12.4" text-anchor="end">100</text>
<path d="M391.70000000000005,46.20H395.6" stroke="#000" stroke-width="1.1"/>
<text x="388.60" y="50.50" font-size="12.4" text-anchor="end">150</text>
<path d="M391.70000000000005,19.20H395.6" stroke="#000" stroke-width="1.1"/>
<text x="388.60" y="23.50" font-size="12.4" text-anchor="end">200</text>
<path d="M391.70000000000005,251.50H395.6" stroke="#000" stroke-width="1.1"/>
<text x="388.60" y="255.80" font-size="12.4" text-anchor="end">0</text>
<path d="M391.70000000000005,230.56H395.6" stroke="#000" stroke-width="1.1"/>
<text x="388.60" y="234.86" font-size="12.4" text-anchor="end">500</text>
<path d="M391.70000000000005,209.62H395.6" stroke="#000" stroke-width="1.1"/>
<text x="388.60" y="213.92" font-size="12.4" text-anchor="end">1000</text>
<path d="M391.70000000000005,188.68H395.6" stroke="#000" stroke-width="1.1"/>
<text x="388.60" y="192.98" font-size="12.4" text-anchor="end">1500</text>
<path d="M391.70000000000005,167.74H395.6" stroke="#000" stroke-width="1.1"/>
<text x="388.60" y="172.04" font-size="12.4" text-anchor="end">2000</text>
<path d="M391.70000000000005,146.80H395.6" stroke="#000" stroke-width="1.1"/>
<text x="388.60" y="151.10" font-size="12.4" text-anchor="end">2500</text>
<path d="M413.12,256V259.8" stroke="#000" stroke-width="1.1"/>
<text x="413.12" y="272.4" font-size="12" text-anchor="middle">Vu01</text>
<path d="M442.78,256V259.8" stroke="#000" stroke-width="1.1"/>
<text x="442.78" y="272.4" font-size="12" text-anchor="middle">Vu02</text>
<path d="M472.44,256V259.8" stroke="#000" stroke-width="1.1"/>
<text x="472.44" y="272.4" font-size="12" text-anchor="middle">Vu03</text>
<path d="M502.10,256V259.8" stroke="#000" stroke-width="1.1"/>
<text x="502.10" y="272.4" font-size="12" text-anchor="middle">Vu04</text>
<path d="M531.76,256V259.8" stroke="#000" stroke-width="1.1"/>
<text x="531.76" y="272.4" font-size="12" text-anchor="middle">Vu05</text>
<path d="M561.42,256V259.8" stroke="#000" stroke-width="1.1"/>
<text x="561.42" y="272.4" font-size="12" text-anchor="middle">Vu06</text>
<path d="M591.08,256V259.8" stroke="#000" stroke-width="1.1"/>
<text x="591.08" y="272.4" font-size="12" text-anchor="middle">Vu07</text>
<path d="M620.74,256V259.8" stroke="#000" stroke-width="1.1"/>
<text x="620.74" y="272.4" font-size="12" text-anchor="middle">Vu08</text>
<path d="M650.40,256V259.8" stroke="#000" stroke-width="1.1"/>
<text x="650.40" y="272.4" font-size="12" text-anchor="middle">Vu09</text>
<path d="M680.06,256V259.8" stroke="#000" stroke-width="1.1"/>
<text x="680.06" y="272.4" font-size="12" text-anchor="middle">Vu10</text>
<path d="M709.72,256V259.8" stroke="#000" stroke-width="1.1"/>
<text x="709.72" y="272.4" font-size="12" text-anchor="middle">Vu11</text>
<text x="561.4" y="289.6" font-size="14.7" text-anchor="middle">chromosome</text>
<text transform="translate(353.6,135.8) rotate(-90)" font-size="14.7" text-anchor="middle">distance (kb)</text>
<text x="528.8" y="26.4" font-size="12.5">R<tspan font-size="7" dy="-3.7">2</tspan><tspan dy="3.7"> = 0.20</tspan></text>
<text x="522.6" y="150.5" font-size="12.5">baseline R<tspan font-size="7" dx="0.6" dy="-3.7">2</tspan></text>
</svg>
</body></html>
